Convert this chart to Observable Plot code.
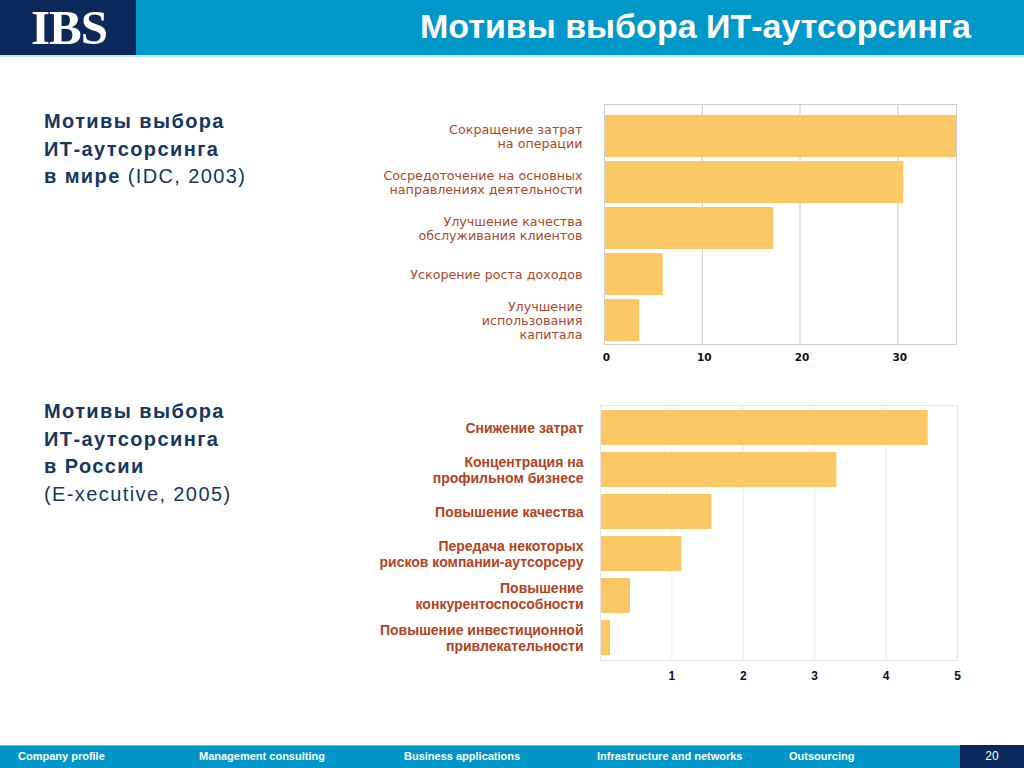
<!DOCTYPE html>
<html><head><meta charset="utf-8">
<script src="https://cdn.jsdelivr.net/npm/d3@7"></script>
<script src="https://cdn.jsdelivr.net/npm/@observablehq/plot@0.6"></script>
<style>
html,body{margin:0;padding:0;background:#fff;}
#page{position:relative;width:1024px;height:768px;overflow:hidden;background:#fff;font-family:"Liberation Sans",Arial,sans-serif;}
.abs{position:absolute;}
#logoBox{left:0;top:0;width:136px;height:55px;background:#0b2a5b;}
#logo{left:0;top:0;width:138px;height:55px;line-height:55px;text-align:center;color:#fff;font-family:"Liberation Serif",serif;font-weight:bold;font-size:49px;letter-spacing:-1px;}
#titleBar{left:136px;top:0;width:888px;height:55px;background:#0098c9;}
#title{left:420px;top:0;width:600px;height:55px;line-height:53px;text-align:left;color:#fff;font-family:"Liberation Sans",sans-serif;font-weight:bold;font-size:34px;}
#titleLine{left:0;top:55px;width:1024px;height:2px;background:#bfe6f2;}
.side{left:44px;color:#17375e;font-size:20px;line-height:27.5px;font-weight:bold;letter-spacing:1.4px;}
.side span{font-weight:normal;}
#footer{left:0;top:745px;width:1024px;height:23px;background:#0097c8;border-top:1px solid #5fc0e0;box-sizing:border-box;}
#pageBox{left:960px;top:745px;width:64px;height:23px;background:#0b2a5b;}
.ft{top:745px;height:23px;line-height:23px;color:#fff;font-size:11px;font-weight:bold;}
#pg{left:960px;width:64px;text-align:center;font-weight:normal;font-size:12px;}
#chartTop{left:360px;top:94px;}
#chartBottom{left:360px;top:395px;}
</style></head>
<body><div id="page">
<div class="abs" id="logoBox"></div><div class="abs" id="logo">IBS</div>
<div class="abs" id="titleBar"></div>
<div class="abs" id="title"></div>
<div class="abs" id="titleLine"></div>
<div class="abs side" id="side1" style="top:108px;"></div>
<div class="abs side" id="side2" style="top:398px;"></div>
<div class="abs" id="chartTop"></div>
<div class="abs" id="chartBottom"></div>
<div class="abs" id="footer"></div>
<div class="abs" id="pageBox"></div>
<div id="footTexts"></div>
</div>
<script>
// ---- data ----
const pageTitle = "Мотивы выбора ИТ-аутсорсинга";
const worldLabels = [
  "Сокращение затрат\nна операции",
  "Сосредоточение на основных\nнаправлениях деятельности",
  "Улучшение качества\nобслуживания клиентов",
  "Ускорение роста доходов",
  "Улучшение\nиспользования\nкапитала"
];
const worldValues = [36, 30.6, 17.3, 6.0, 3.6];
const worldTicks = [0, 10, 20, 30];

const russiaLabels = [
  "Снижение затрат",
  "Концентрация на\nпрофильном бизнесе",
  "Повышение качества",
  "Передача некоторых\nрисков компании-аутсорсеру",
  "Повышение\nконкурентоспособности",
  "Повышение инвестиционной\nпривлекательности"
];
const russiaValues = [4.59, 3.31, 1.56, 1.14, 0.42, 0.14];
const russiaTicks = [1, 2, 3, 4, 5];

const footerItems = ["Company profile", "Management consulting", "Business applications", "Infrastructure and networks", "Outsourcing"];
const footerX = [18, 199, 404, 597, 789];
const pageNumber = "20";

// ---- text ----
document.getElementById("title").textContent = pageTitle;
document.getElementById("side1").innerHTML = "Мотивы выбора<br>ИТ-аутсорсинга<br>в мире <span>(IDC, 2003)</span>";
document.getElementById("side2").innerHTML = "Мотивы выбора<br>ИТ-аутсорсинга<br>в России<br><span>(E-xecutive, 2005)</span>";
const ftBox = document.getElementById("footTexts");
footerItems.forEach((t, i) => {
  const d = document.createElement("div");
  d.className = "abs ft"; d.style.left = footerX[i] + "px"; d.textContent = t; ftBox.appendChild(d);
});
const pgDiv = document.createElement("div"); pgDiv.className = "abs ft"; pgDiv.id = "pg"; pgDiv.textContent = pageNumber; ftBox.appendChild(pgDiv);

// ---- charts ----
const barColor = "#fbc865";
const worldData = worldLabels.map((l, i) => ({label: l, value: worldValues[i]}));
const russiaData = russiaLabels.map((l, i) => ({label: l, value: russiaValues[i]}));

const chartWorld = Plot.plot({
  width: 610, height: 280,
  marginLeft: 244, marginRight: 14, marginTop: 10, marginBottom: 30,
  style: {background: "transparent", overflow: "visible"},
  x: {domain: [0, 36], axis: null},
  y: {domain: worldLabels, axis: null, paddingInner: 0.087, paddingOuter: 0.152, align: 0.8},
  marks: [
    Plot.gridX(worldTicks.filter(d => d > 0), {stroke: "#c8c8c8", strokeOpacity: 1}),
    Plot.barX(worldData, {x: "value", y: "label", fill: barColor}),
    Plot.frame({stroke: "#cfcfcf"}),
    Plot.axisX(worldTicks, {label: null, tickSize: 0, tickPadding: 9, fontSize: 10.5, fontWeight: "bold", fill: "#111", fontFamily: "DejaVu Sans, sans-serif", dx: 2}),
    Plot.text(worldData, {y: "label", text: "label", frameAnchor: "left", textAnchor: "end", dx: -22,
      fontSize: 12.7, lineHeight: 1.1, fill: "#a9492a", fontFamily: "DejaVu Sans, sans-serif"})
  ]
});
document.getElementById("chartTop").appendChild(chartWorld);

const chartRussia = Plot.plot({
  width: 610, height: 300,
  marginLeft: 240, marginRight: 13, marginTop: 10, marginBottom: 35,
  style: {background: "transparent", overflow: "visible"},
  x: {domain: [0, 5], axis: null},
  y: {domain: russiaLabels, axis: null, paddingInner: 0.176, paddingOuter: 0.08, align: 0.5},
  marks: [
    Plot.gridX(russiaTicks.filter(d => d < 5), {stroke: "#ececec", strokeOpacity: 1}),
    Plot.barX(russiaData, {x: "value", y: "label", fill: barColor}),
    Plot.frame({stroke: "#e6e6e6"}),
    Plot.axisX(russiaTicks, {label: null, tickSize: 0, tickPadding: 11, fontSize: 12, fontWeight: "bold", fill: "#111", fontFamily: "Liberation Sans, Arial, sans-serif"}),
    Plot.text(russiaData, {y: "label", text: "label", frameAnchor: "left", textAnchor: "end", dx: -17,
      fontSize: 14, fontWeight: "bold", lineHeight: 1.14, fill: "#b5421e", fontFamily: "Liberation Sans, Arial, sans-serif"})
  ]
});
document.getElementById("chartBottom").appendChild(chartRussia);
</script>
</body></html>
